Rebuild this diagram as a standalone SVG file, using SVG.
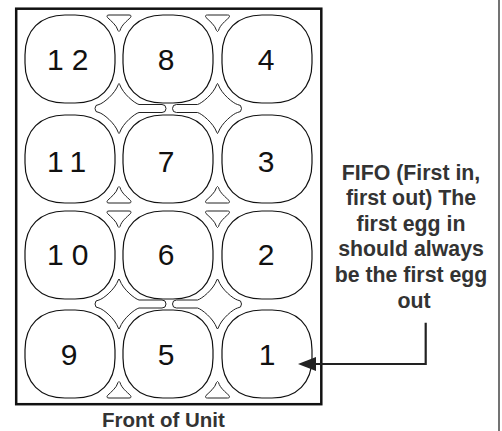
<svg xmlns="http://www.w3.org/2000/svg" xmlns:xlink="http://www.w3.org/1999/xlink" width="502" height="431" viewBox="0 0 502 431">
<style>
.cup{fill:#fff;stroke:#111;stroke-width:1.2}
.tray{fill:#fff;stroke:#222;stroke-width:1}
.num{font-family:"Liberation Sans",Arial,sans-serif;font-size:30px;fill:#111}
.lbl{font-family:"Liberation Sans",Arial,sans-serif;font-weight:bold;fill:#333;text-anchor:middle}
.conn{fill:none;stroke:#222;stroke-width:2.2}
</style>
<defs>
<path id="cup" d="M40,0 L50,0 C74.8,0 90,15.2 90,40 L90,48 C90,72.8 74.8,88 50,88 L40,88 C15.2,88 0,72.8 0,48 L0,40 C0,15.2 15.2,0 40,0 Z"/>
<path id="tri" d="M-10,0 L10,0 Q13,0 11.5,2.5 C8,6 2.5,10 1,15.5 Q0,17.5 -1,15.5 C-2.5,10 -8,6 -11.5,2.5 Q-13,0 -10,0 Z"/>
<path id="midL" d="M-20,-4 C-16,-5 -4,-14.5 -0.7,-24 Q0,-26 0.7,-24 C4,-14.5 16,-5 20,-4 L43,-4 A4,4 0 0 1 43,4 L20,4 C16,5 4,14.5 0.7,24 Q0,26 -0.7,24 C-4,14.5 -16,5 -20,4 A4,4 0 0 1 -20,-4 Z"/>
<path id="midR" d="M-20,-4 C-16,-5 -4,-14.5 -0.7,-24 Q0,-26 0.7,-24 C4,-14.5 16,-5 20,-4 L41,-4 A4,4 0 0 1 41,4 L20,4 C16,5 4,14.5 0.7,24 Q0,26 -0.7,24 C-4,14.5 -16,5 -20,4 A4,4 0 0 1 -20,-4 Z"/>
<marker id="ah" viewBox="0 0 18 14" markerWidth="18" markerHeight="14" refX="0" refY="7" orient="auto" markerUnits="userSpaceOnUse">
<path d="M0,0 L18,7 L0,14 Z" fill="#222"/>
</marker>
</defs>
<rect width="502" height="431" fill="#fff"/>
<line x1="499" y1="0" x2="499" y2="431" stroke="#444" stroke-width="1.5"/>
<g id="frame">
<rect x="16.2" y="8.7" width="305.1" height="395.5" fill="#fff" stroke="#111" stroke-width="2.5"/>
</g>
<g id="tray-shapes">
<use xlink:href="#tri" class="tray" transform="translate(119,15)"/>
<use xlink:href="#tri" class="tray" transform="translate(217.5,15)"/>
<use xlink:href="#tri" class="tray" transform="translate(119,203) scale(1,-1)"/>
<use xlink:href="#tri" class="tray" transform="translate(217.5,203) scale(1,-1)"/>
<use xlink:href="#tri" class="tray" transform="translate(119,211)"/>
<use xlink:href="#tri" class="tray" transform="translate(217.5,211)"/>
<use xlink:href="#tri" class="tray" transform="translate(119,398) scale(1,-1)"/>
<use xlink:href="#tri" class="tray" transform="translate(217.5,398) scale(1,-1)"/>
<use xlink:href="#midL" class="tray" transform="translate(119,108.5)"/>
<use xlink:href="#midR" class="tray" transform="translate(217.5,108.5) scale(-1,1)"/>
<use xlink:href="#midL" class="tray" transform="translate(119,304)"/>
<use xlink:href="#midR" class="tray" transform="translate(217.5,304) scale(-1,1)"/>
</g>
<g id="cup12"><use xlink:href="#cup" class="cup" x="25" y="15"/><text class="num" x="47" y="70" letter-spacing="8">12</text></g>
<g id="cup8"><use xlink:href="#cup" class="cup" x="123" y="15"/><text class="num" x="166" y="70" text-anchor="middle">8</text></g>
<g id="cup4"><use xlink:href="#cup" class="cup" x="222" y="15"/><text class="num" x="266" y="70" text-anchor="middle">4</text></g>
<g id="cup11"><use xlink:href="#cup" class="cup" x="25" y="115"/><text class="num" x="47" y="171.5" letter-spacing="8">11</text></g>
<g id="cup7"><use xlink:href="#cup" class="cup" x="123" y="115"/><text class="num" x="166" y="171.5" text-anchor="middle">7</text></g>
<g id="cup3"><use xlink:href="#cup" class="cup" x="222" y="115"/><text class="num" x="266" y="171.5" text-anchor="middle">3</text></g>
<g id="cup10"><use xlink:href="#cup" class="cup" x="25" y="211"/><text class="num" x="47" y="265" letter-spacing="8">10</text></g>
<g id="cup6"><use xlink:href="#cup" class="cup" x="123" y="211"/><text class="num" x="166" y="265" text-anchor="middle">6</text></g>
<g id="cup2"><use xlink:href="#cup" class="cup" x="222" y="211"/><text class="num" x="266" y="265" text-anchor="middle">2</text></g>
<g id="cup9"><use xlink:href="#cup" class="cup" x="25" y="310"/><text class="num" x="69" y="365" text-anchor="middle">9</text></g>
<g id="cup5"><use xlink:href="#cup" class="cup" x="123" y="310"/><text class="num" x="166" y="365" text-anchor="middle">5</text></g>
<g id="cup1"><use xlink:href="#cup" class="cup" x="222" y="310"/><text class="num" x="267" y="365" text-anchor="middle">1</text></g>
<g id="front-label"><text class="lbl" x="163.4" y="426.7" font-size="20.5">Front of Unit</text></g>
<g id="fifo-note">
<text class="lbl" font-size="21.3">
<tspan x="414" y="179.5">FIFO (First in,</tspan>
<tspan x="414" y="205.1">first out) The</tspan>
<tspan x="414" y="230.7">first egg in</tspan>
<tspan x="414" y="256.3">should always</tspan>
<tspan x="414" y="281.9">be the first egg</tspan>
<tspan x="414" y="307.5">out</tspan>
</text>
</g>
<g id="connectors">
<polyline class="conn" points="425.7,322.7 425.7,364 316,364" marker-end="url(#ah)"/>
</g>
</svg>
